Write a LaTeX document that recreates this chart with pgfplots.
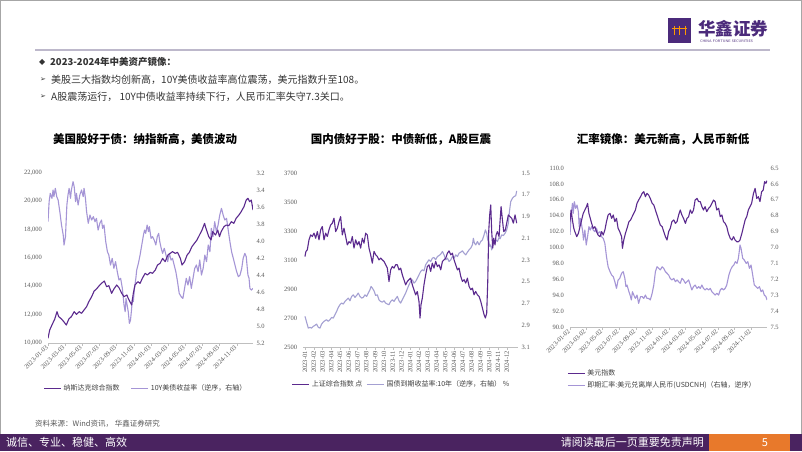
\documentclass[border=0pt]{standalone}
\usepackage{pgfplots}
\pgfplotsset{compat=1.18}
\usepackage{fontspec}
\setmainfont{Liberation Serif}
\newfontfamily\cjk{Noto Sans CJK SC}
\newfontfamily\dejavu{DejaVu Sans}
\definecolor{dk}{HTML}{5B2A8E}
\definecolor{lt}{HTML}{A595D6}
\definecolor{lt2}{HTML}{A4A0D2}
\definecolor{tk}{HTML}{595959}
\definecolor{ax}{HTML}{BFBFBF}
\definecolor{lg}{HTML}{404040}
\definecolor{barc}{HTML}{4A2360}
\definecolor{org}{HTML}{E8792B}
\definecolor{logo}{HTML}{4B2A7B}
\definecolor{rule}{HTML}{BDB8CB}
\definecolor{txt}{HTML}{333333}
\pgfplotsset{
  base/.style={scale only axis, anchor=south west,
    axis line style={draw=none},
    tick label style={font=\fontsize{6.5}{7}\selectfont, text=tk},
    /pgf/number format/assume math mode=true,
    scaled y ticks=false, scaled x ticks=false, ytick style={draw=none}},
  leftax/.style={base, axis x line*=bottom, axis y line*=left,
    x axis line style={draw=ax, -}, y axis line style={draw=none},
    xtick style={draw=ax}, tick align=outside, major tick length=2.5pt},
  rightax/.style={base, hide x axis, axis y line*=right, y axis line style={draw=none}, y dir=reverse},
  dkline/.style={color=dk, line width=1.1pt, line join=round, mark=none},
  ltline/.style={color=lt, line width=1.1pt, line join=round, mark=none},
  lgd/.style={legend cell align=left, legend style={draw=none, fill=none, font=\cjk\fontsize{7}{8.5}\selectfont, text=lg}},
}
\begin{document}
\begin{tikzpicture}
\begin{scope}[x=1pt,y=-1pt,yshift=451pt]
\path[use as bounding box] (0,0) rectangle (802,451);
\fill[white] (0,0) rectangle (802,451);
\draw[gray!70, line width=0.8pt] (0.4,0.4) rectangle (801.6,450.6);
% logo
\fill[logo] (668,18) rectangle (691,43);
\draw[orange!80!yellow, line width=1pt] (672,29) -- (687,29);
\foreach \xx in {674,679.5,685}{\draw[orange!80!yellow, line width=1pt] (\xx,26) -- (\xx,35);}
\node[anchor=west, inner sep=0, text=logo, font=\cjk\bfseries\fontsize{17.5}{18}\selectfont] at (698,29) {华鑫证券};
\node[anchor=west, inner sep=0, text=logo, font=\fontsize{3.6}{4}\selectfont\sffamily] at (700,41) {CHINA FORTUNE SECURITIES};
\draw[rule, line width=2pt] (35,50) -- (770,50);
% header text
\node[anchor=west, inner sep=0, text=txt, font=\dejavu\fontsize{8}{9}\selectfont] at (39,62) {◆};
\node[anchor=west, inner sep=0, text=txt, font=\cjk\bfseries\fontsize{9.5}{11}\selectfont] at (50,62) {2023-2024年中美资产镜像：};
\node[anchor=west, inner sep=0, text=txt, font=\dejavu\fontsize{7}{9}\selectfont] at (40,80) {➢};
\node[anchor=west, inner sep=0, text=txt, font=\cjk\fontsize{10}{11}\selectfont] at (51,80) {美股三大指数均创新高，10Y美债收益率高位震荡，美元指数升至108。};
\node[anchor=west, inner sep=0, text=txt, font=\dejavu\fontsize{7}{9}\selectfont] at (40,97) {➢};
\node[anchor=west, inner sep=0, text=txt, font=\cjk\fontsize{10}{11}\selectfont] at (51,97) {A股震荡运行， 10Y中债收益率持续下行，人民币汇率失守7.3关口。};
% chart titles
\node[inner sep=0, text=black, font=\cjk\bfseries\fontsize{11.5}{13}\selectfont] at (145,139) {美国股好于债：纳指新高，美债波动};
\node[inner sep=0, text=black, font=\cjk\bfseries\fontsize{11.5}{13}\selectfont] at (401,139) {国内债好于股：中债新低，A股巨震};
\node[inner sep=0, text=black, font=\cjk\bfseries\fontsize{11.5}{13}\selectfont] at (663,139) {汇率镜像：美元新高，人民币新低};
% footer
\node[anchor=west, inner sep=0, text=tk, font=\cjk\fontsize{7.5}{9}\selectfont] at (35,424) {资料来源：Wind资讯， 华鑫证券研究};
\fill[barc] (0,434) rectangle (802,451);
\fill[org] (709,434) rectangle (790,451);
\node[anchor=west, inner sep=0, text=white, font=\cjk\fontsize{11}{12}\selectfont] at (6,442.5) {诚信、专业、稳健、高效};
\node[anchor=east, inner sep=0, text=white, font=\cjk\fontsize{11}{12}\selectfont] at (704,442.5) {请阅读最后一页重要免责声明};
\node[inner sep=0, text=white, font=\cjk\fontsize{11}{12}\selectfont] at (765,442.5) {5};
\end{scope}

% ================= Chart 1 =================
\begin{axis}[rightax, lgd, at={(48pt,108pt)}, width=205pt, height=170pt,
  xmin=0, xmax=728, ymin=3.2, ymax=5.2,
  ytick={3.2,3.4,3.6,3.8,4.0,4.2,4.4,4.6,4.8,5.0,5.2},
  yticklabel style={/pgf/number format/fixed, /pgf/number format/fixed zerofill, /pgf/number format/precision=1},
  legend columns=2, legend style={at={(axis description cs:0.478,-0.265)}, anchor=center, /tikz/every even column/.append style={column sep=9pt}}]
\addlegendimage{dkline}
\addlegendentry{纳斯达克综合指数}
\addplot[ltline] coordinates {(0,3.773)(4,3.537)(8,3.439)(14,3.498)(18,3.400)(21,3.478)(26,3.380)(31,3.478)(36,3.518)(42,3.655)(48,3.812)(54,3.929)(57,4.047)(62,3.949)(67,3.577)(71,3.459)(75,3.380)(80,3.498)(83,3.400)(89,3.302)(93,3.361)(98,3.537)(101,3.439)(107,3.577)(113,3.459)(119,3.400)(125,3.478)(128,3.380)(133,3.498)(137,3.655)(143,3.792)(149,3.694)(155,3.753)(161,3.714)(167,3.773)(172,3.733)(178,3.871)(184,3.792)(190,3.753)(194,3.851)(199,3.812)(205,4.008)(211,4.126)(216,4.165)(222,4.282)(228,4.204)(234,4.322)(240,4.243)(246,4.361)(252,4.459)(258,4.439)(264,4.557)(270,4.753)(274,4.832)(277,4.675)(281,4.753)(285,4.832)(289,4.969)(293,4.930)(296,4.832)(300,4.675)(303,4.714)(307,4.557)(312,4.439)(315,4.341)(321,4.263)(327,4.165)(333,4.047)(339,3.929)(343,3.871)(347,3.910)(352,3.812)(357,3.890)(360,3.831)(366,3.969)(371,3.949)(377,3.988)(383,4.047)(388,3.949)(393,3.910)(397,4.008)(402,4.086)(407,4.145)(413,4.086)(419,4.165)(425,4.243)(431,4.145)(437,4.224)(442,4.204)(448,4.282)(454,4.361)(460,4.479)(466,4.616)(473,4.655)(479,4.675)(485,4.557)(491,4.439)(497,4.518)(503,4.420)(509,4.557)(515,4.439)(521,4.322)(527,4.282)(533,4.361)(539,4.224)(545,4.400)(551,4.322)(557,4.165)(563,4.243)(569,4.047)(575,4.126)(580,3.851)(586,3.949)(592,3.773)(598,3.890)(604,3.812)(610,3.694)(616,3.616)(622,3.694)(628,3.753)(634,3.733)(640,3.871)(646,4.008)(652,4.126)(658,4.204)(664,4.282)(670,4.361)(676,4.420)(682,4.400)(688,4.322)(693,4.204)(699,4.145)(704,4.184)(710,4.400)(714,4.439)(717,4.557)(722,4.577)(728,4.557)};
\addlegendentry{10Y美债收益率（逆序，右轴）}
\end{axis}
\begin{axis}[leftax, at={(48pt,108pt)}, width=205pt, height=170pt,
  xmin=0, xmax=728, ymin=10000, ymax=22000,
  ytick={10000,12000,...,22000},
  yticklabel style={/pgf/number format/1000 sep={,}},
  xtick={0,59,120,181,243,304,365,425,486,547,609,670},
  xticklabels={2023-01-03,2023-03-03,2023-05-03,2023-07-03,2023-09-03,2023-11-03,2024-01-03,2024-03-03,2024-05-03,2024-07-03,2024-09-03,2024-11-03},
  xticklabel style={rotate=45, anchor=east, inner sep=1.5pt}]
\addplot[dkline] coordinates {(0,10329)(6,10917)(14,11270)(24,11694)(32,12212)(38,11859)(48,11694)(56,11506)(65,11270)(74,11694)(83,11859)(93,12212)(101,12023)(111,12212)(119,12094)(128,12329)(137,12564)(145,12917)(155,13270)(164,13670)(172,13812)(182,14047)(190,14212)(200,14376)(208,13976)(216,14047)(226,13506)(234,13812)(244,14094)(252,13906)(262,13506)(270,13270)(280,13388)(285,13153)(291,12917)(297,12682)(303,13506)(309,14094)(319,14329)(327,14212)(335,14565)(345,14917)(353,14800)(363,14988)(371,14917)(381,15153)(389,15506)(398,15624)(407,15976)(416,15741)(426,16212)(434,16329)(442,16447)(452,16329)(460,16400)(470,15976)(476,15506)(485,15741)(494,16212)(502,16400)(511,16800)(520,17035)(529,17270)(538,17623)(547,17976)(556,18447)(561,18094)(571,17506)(579,17270)(585,17859)(595,17623)(603,17976)(609,17506)(615,17859)(625,18212)(633,18329)(642,18282)(651,18565)(660,18447)(668,18800)(678,19035)(686,19271)(696,19624)(704,20094)(710,20212)(716,19976)(722,20094)(728,19388)};
\end{axis}

% ================= Chart 2 =================
\begin{axis}[rightax, lgd, at={(303.2pt,104pt)}, width=214.9pt, height=174pt,
  xmin=-0.2, xmax=24.3, ymin=1.5, ymax=3.1,
  ytick={1.5,1.7,1.9,2.1,2.3,2.5,2.7,2.9,3.1},
  yticklabel style={/pgf/number format/fixed, /pgf/number format/fixed zerofill, /pgf/number format/precision=1},
  legend columns=2, legend style={at={(axis description cs:0.457,-0.213)}, anchor=center, /tikz/every even column/.append style={column sep=2pt}}]
\addlegendimage{dkline}
\addlegendentry{上证综合指数 点}
\addplot[ltline, color=lt2] coordinates {(0,2.818)(0.11,2.849)(0.27,2.895)(0.38,2.926)(0.57,2.919)(0.76,2.926)(0.95,2.910)(1.14,2.901)(1.33,2.889)(1.52,2.919)(1.71,2.926)(1.90,2.889)(2.09,2.870)(2.28,2.858)(2.47,2.849)(2.66,2.864)(2.85,2.849)(3.04,2.828)(3.23,2.834)(3.42,2.803)(3.61,2.773)(3.80,2.736)(3.99,2.711)(4.18,2.696)(4.37,2.705)(4.56,2.681)(4.75,2.666)(4.94,2.650)(5.13,2.675)(5.32,2.635)(5.51,2.620)(5.70,2.644)(5.89,2.626)(6.08,2.604)(6.27,2.635)(6.46,2.650)(6.65,2.644)(6.84,2.620)(7.03,2.635)(7.22,2.604)(7.41,2.574)(7.53,2.543)(7.68,2.558)(7.87,2.583)(8.06,2.626)(8.25,2.620)(8.44,2.666)(8.63,2.681)(8.82,2.687)(9.01,2.675)(9.20,2.696)(9.39,2.705)(9.58,2.711)(9.77,2.681)(9.96,2.666)(10.15,2.681)(10.34,2.656)(10.53,2.635)(10.72,2.675)(10.91,2.696)(11.10,2.666)(11.29,2.635)(11.48,2.604)(11.67,2.565)(11.86,2.528)(12.05,2.497)(12.24,2.482)(12.43,2.513)(12.62,2.497)(12.81,2.467)(13.00,2.436)(13.19,2.405)(13.38,2.390)(13.57,2.399)(13.76,2.344)(13.95,2.320)(14.14,2.298)(14.33,2.314)(14.52,2.283)(14.71,2.277)(14.90,2.298)(15.10,2.268)(15.29,2.259)(15.48,2.246)(15.67,2.222)(15.86,2.253)(16.05,2.298)(16.24,2.283)(16.43,2.314)(16.62,2.298)(16.81,2.268)(17.00,2.283)(17.19,2.253)(17.38,2.268)(17.57,2.237)(17.76,2.228)(17.95,2.216)(18.14,2.237)(18.33,2.253)(18.52,2.228)(18.71,2.207)(18.90,2.191)(19.09,2.161)(19.20,2.100)(19.32,2.145)(19.47,2.161)(19.66,2.130)(19.85,2.161)(20.04,2.130)(20.23,2.115)(20.42,2.069)(20.57,2.023)(20.72,2.054)(20.84,2.115)(20.95,2.130)(21.06,2.176)(21.18,2.161)(21.29,2.207)(21.41,2.161)(21.52,2.145)(21.67,2.130)(21.79,2.115)(21.94,2.130)(22.13,2.093)(22.24,2.105)(22.43,2.069)(22.62,2.075)(22.81,2.054)(23.00,2.023)(23.19,1.962)(23.31,1.855)(23.46,1.763)(23.65,1.732)(23.84,1.717)(24.03,1.708)(24.14,1.665)};
\addlegendentry{国债到期收益率:10年（逆序，右轴） \%}
\end{axis}
\begin{axis}[leftax, at={(303.2pt,104pt)}, width=214.9pt, height=174pt,
  xmin=-0.2, xmax=24.3, ymin=2500, ymax=3700,
  ytick={2500,2700,...,3700},
  yticklabel style={/pgf/number format/1000 sep={}},
  xtick={0,...,23},
  xticklabels={2023-01,2023-02,2023-03,2023-04,2023-05,2023-06,2023-07,2023-08,2023-09,2023-10,2023-11,2023-12,2024-01,2024-02,2024-03,2024-04,2024-05,2024-06,2024-07,2024-08,2024-09,2024-10,2024-11,2024-12},
  xticklabel style={rotate=90, anchor=east, inner sep=1.5pt}]
\addplot[dkline] coordinates {(0,3124)(0.11,3159)(0.27,3170)(0.46,3239)(0.65,3273)(0.84,3262)(1.03,3285)(1.22,3250)(1.41,3296)(1.60,3239)(1.79,3308)(1.98,3331)(2.17,3239)(2.36,3285)(2.55,3262)(2.74,3308)(2.93,3342)(3.12,3354)(3.31,3388)(3.50,3296)(3.69,3319)(3.88,3365)(4.07,3399)(4.26,3273)(4.45,3319)(4.64,3262)(4.83,3204)(5.02,3227)(5.21,3216)(5.40,3262)(5.59,3182)(5.78,3239)(5.97,3204)(6.16,3227)(6.35,3182)(6.54,3250)(6.73,3216)(6.92,3285)(7.11,3273)(7.30,3182)(7.49,3136)(7.68,3078)(7.87,3159)(8.06,3136)(8.25,3124)(8.44,3101)(8.63,3113)(8.82,3101)(9.01,3090)(9.20,3067)(9.39,3044)(9.58,2952)(9.77,3032)(9.96,3055)(10.15,3044)(10.34,3067)(10.53,3067)(10.72,3032)(10.91,3044)(11.10,2998)(11.29,2964)(11.48,2929)(11.67,2952)(11.86,2964)(12.05,2975)(12.24,2929)(12.43,2895)(12.62,2860)(12.81,2883)(13.00,2815)(13.12,2700)(13.23,2792)(13.38,2837)(13.57,2929)(13.76,2998)(13.95,3055)(14.14,3067)(14.33,3021)(14.52,3078)(14.71,3044)(14.90,3090)(15.10,3055)(15.29,3067)(15.48,3032)(15.67,3090)(15.86,3101)(16.05,3113)(16.24,3147)(16.43,3163)(16.62,3136)(16.81,3147)(17.00,3101)(17.19,3067)(17.38,3032)(17.57,3044)(17.76,2987)(17.95,2952)(18.14,2964)(18.33,2941)(18.52,2975)(18.71,2918)(18.90,2895)(19.09,2906)(19.28,2860)(19.47,2883)(19.66,2860)(19.85,2849)(20.04,2815)(20.23,2769)(20.42,2723)(20.57,2700)(20.72,2734)(20.84,2952)(20.95,3296)(21.06,3411)(21.18,3480)(21.29,3296)(21.41,3182)(21.52,3250)(21.67,3204)(21.79,3273)(21.94,3296)(22.13,3262)(22.24,3365)(22.36,3468)(22.51,3377)(22.66,3296)(22.85,3308)(23.00,3354)(23.19,3411)(23.38,3399)(23.57,3388)(23.76,3354)(23.95,3411)(24.14,3354)};
\end{axis}

% ================= Chart 3 =================
\begin{axis}[rightax, lgd, at={(570pt,124pt)}, width=197pt, height=159pt,
  xmin=0, xmax=729, ymin=6.5, ymax=7.5,
  ytick={6.5,6.6,6.7,6.8,6.9,7.0,7.1,7.2,7.3,7.4,7.5},
  yticklabel style={/pgf/number format/fixed, /pgf/number format/fixed zerofill, /pgf/number format/precision=1},
  legend columns=1, legend style={at={(axis description cs:-0.03,-0.33)}, anchor=west, /tikz/every row/.append style={row sep=5pt}}]
\addlegendimage{dkline}
\addlegendentry{美元指数}
\addplot[ltline] coordinates {(0,6.921)(4,6.806)(9,6.722)(12,6.785)(16,6.712)(21,6.754)(26,6.733)(31,6.775)(34,6.869)(38,6.817)(43,6.858)(47,6.900)(50,6.953)(55,6.890)(60,6.984)(65,6.932)(70,6.869)(75,6.890)(80,6.869)(86,6.890)(92,6.900)(98,6.879)(104,6.911)(111,6.900)(117,6.932)(123,6.942)(129,6.974)(135,7.058)(141,7.121)(148,7.152)(154,7.173)(160,7.183)(166,7.215)(172,7.257)(178,7.204)(184,7.194)(191,7.162)(197,7.152)(203,7.194)(207,7.246)(211,7.236)(218,7.278)(224,7.309)(227,7.330)(231,7.278)(236,7.299)(242,7.320)(248,7.299)(254,7.351)(261,7.309)(267,7.309)(273,7.320)(279,7.299)(285,7.320)(291,7.320)(297,7.330)(304,7.288)(310,7.236)(316,7.152)(322,7.121)(328,7.131)(334,7.141)(341,7.121)(347,7.131)(353,7.152)(359,7.162)(365,7.173)(371,7.194)(377,7.204)(384,7.194)(390,7.215)(396,7.204)(402,7.215)(408,7.225)(414,7.194)(420,7.204)(427,7.225)(433,7.215)(439,7.204)(445,7.236)(451,7.267)(457,7.246)(463,7.236)(470,7.257)(476,7.246)(482,7.257)(488,7.236)(494,7.257)(500,7.267)(506,7.257)(513,7.267)(519,7.257)(525,7.278)(531,7.288)(537,7.299)(543,7.288)(550,7.299)(556,7.267)(562,7.257)(568,7.267)(574,7.257)(580,7.236)(584,7.204)(588,7.173)(594,7.141)(600,7.121)(606,7.110)(612,7.089)(618,7.100)(623,7.068)(627,7.016)(629,6.984)(633,7.005)(639,7.068)(645,7.079)(652,7.100)(658,7.089)(664,7.131)(670,7.110)(676,7.173)(682,7.236)(688,7.246)(695,7.257)(701,7.246)(707,7.278)(713,7.267)(719,7.299)(725,7.309)(729,7.330)};
\addlegendentry{即期汇率:美元兑离岸人民币(USDCNH)（右轴，逆序）}
\end{axis}
\begin{axis}[leftax, at={(570pt,124pt)}, width=197pt, height=159pt,
  xmin=0, xmax=729, ymin=90, ymax=110,
  ytick={90,92,...,110},
  yticklabel style={/pgf/number format/fixed, /pgf/number format/fixed zerofill, /pgf/number format/precision=1},
  xtick={0,59,120,181,243,304,365,425,486,547,609,670},
  xticklabels={2023-01-02,2023-03-02,2023-05-02,2023-07-02,2023-09-02,2023-11-02,2024-01-02,2024-03-02,2024-05-02,2024-07-02,2024-09-02,2024-11-02},
  xticklabel style={rotate=45, anchor=east, inner sep=1.5pt}]
\addplot[dkline] coordinates {(0,103.25)(4,104.72)(9,103.46)(14,102.41)(18,101.99)(25,101.36)(31,101.78)(37,102.62)(43,103.46)(49,104.30)(55,104.72)(61,105.14)(65,105.56)(70,104.30)(75,103.67)(80,103.04)(86,102.41)(92,102.62)(98,101.99)(104,101.57)(111,101.36)(117,101.99)(123,101.57)(129,102.20)(135,103.25)(141,104.09)(148,104.30)(154,103.67)(160,104.09)(166,103.25)(172,103.67)(178,102.41)(184,101.99)(191,101.36)(194,99.90)(199,100.94)(205,101.78)(211,102.41)(218,103.25)(224,103.46)(230,103.88)(236,104.30)(242,104.72)(248,105.56)(254,105.97)(261,106.39)(267,106.81)(273,107.02)(279,106.39)(285,106.81)(291,106.60)(297,106.18)(304,105.56)(310,105.35)(316,104.72)(322,104.09)(328,103.46)(334,102.83)(341,102.62)(347,101.99)(353,101.36)(359,100.94)(365,101.99)(371,102.41)(377,103.25)(384,103.46)(390,103.04)(396,103.25)(402,104.09)(408,104.72)(414,104.09)(420,103.67)(427,103.04)(433,103.67)(439,103.88)(445,104.72)(451,104.30)(457,104.72)(463,105.97)(470,106.18)(476,105.77)(482,105.77)(488,105.14)(494,104.72)(500,105.14)(506,104.51)(513,104.93)(519,105.14)(525,105.56)(531,105.97)(537,105.77)(543,104.72)(550,104.93)(556,103.88)(562,104.09)(568,103.25)(574,103.04)(580,102.62)(586,101.78)(593,101.15)(599,100.94)(605,101.36)(611,100.94)(617,100.73)(623,100.73)(629,100.94)(636,101.78)(642,102.62)(648,103.46)(654,103.88)(660,104.72)(666,105.14)(672,105.56)(679,106.81)(685,107.44)(691,106.18)(697,106.39)(703,105.77)(709,107.02)(715,107.23)(720,108.28)(725,108.07)(729,108.41)};
\end{axis}
\end{tikzpicture}
\end{document}
